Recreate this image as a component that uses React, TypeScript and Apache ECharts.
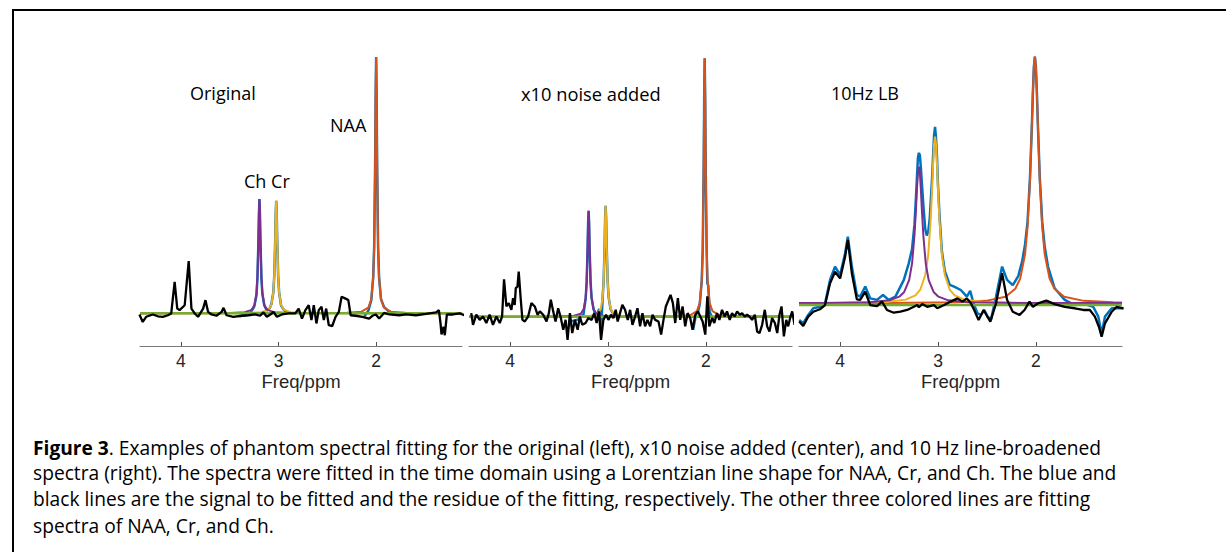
import React, { useEffect, useRef } from "react";
import * as echarts from "echarts";

// ---------- axis / labels ----------
const ppmTicks = [4, 3, 2];
const ppmMin = 1.12;
const ppmMax = 4.42;
const panelTitles = ["Original", "x10 noise added", "10Hz LB"];
const axisName = "Freq/ppm";
const captionLines = [
  "{b|Figure 3}. Examples of phantom spectral fitting for the original (left), x10 noise added (center), and 10 Hz line-broadened",
  "spectra (right). The spectra were fitted in the time domain using a Lorentzian line shape for NAA, Cr, and Ch. The blue and",
  "black lines are the signal to be fitted and the residue of the fitting, respectively. The other three colored lines are fitting",
  "spectra of NAA, Cr, and Ch.",
];

// ---------- panel 1: Original ----------
const signal1: (number | null)[][] = [
  [3.40, -0.012], [3.30, -0.005], [3.25, 0.025], [3.226, 0.07], [3.216, 0.14], [3.206, 0.29], [3.201, 0.39], [3.196, 0.445],
  [3.191, 0.39], [3.186, 0.29], [3.176, 0.14], [3.166, 0.075], [3.146, 0.03], [3.12, 0.01], [3.09, 0.02], [3.074, 0.035],
  [3.054, 0.08], [3.044, 0.145], [3.034, 0.29], [3.029, 0.39], [3.024, 0.439], [3.019, 0.39], [3.014, 0.29], [3.004, 0.145],
  [2.994, 0.08], [2.974, 0.03], [2.944, 0.012], [2.90, 0.002], [2.5, null],
  [2.12, -0.012], [2.08, 0.01], [2.05, 0.05], [2.03, 0.14], [2.02, 0.26], [2.01, 0.59], [2.005, 0.85], [2.0, 1.0],
  [1.995, 0.85], [1.99, 0.59], [1.98, 0.26], [1.97, 0.14], [1.95, 0.055], [1.92, 0.025], [1.88, 0.01], [1.85, 0.004],
];
const naa1 = [
  [4.42, 0], [2.30, 0.002], [2.15, 0.006], [2.08, 0.022], [2.05, 0.054], [2.03, 0.14], [2.02, 0.26], [2.01, 0.59], [2.005, 0.85],
  [2.0, 1.0], [1.995, 0.85], [1.99, 0.59], [1.98, 0.26], [1.97, 0.14], [1.95, 0.054], [1.92, 0.022], [1.85, 0.006], [1.70, 0.002], [1.12, 0],
];
const cr1 = [
  [4.42, 0], [3.324, 0.001], [3.174, 0.004], [3.104, 0.013], [3.074, 0.032], [3.054, 0.079], [3.044, 0.145], [3.034, 0.29],
  [3.029, 0.391], [3.024, 0.439], [3.019, 0.391], [3.014, 0.29], [3.004, 0.145], [2.994, 0.079], [2.974, 0.032], [2.944, 0.013],
  [2.874, 0.004], [2.724, 0.001], [1.12, 0],
];
const ch1 = [
  [4.42, 0], [3.496, 0.001], [3.346, 0.004], [3.276, 0.013], [3.246, 0.032], [3.226, 0.08], [3.216, 0.147], [3.206, 0.294],
  [3.201, 0.396], [3.196, 0.445], [3.191, 0.396], [3.186, 0.294], [3.176, 0.147], [3.166, 0.08], [3.146, 0.032], [3.116, 0.013],
  [3.046, 0.004], [2.896, 0.001], [1.12, 0],
];
const base1 = [[4.42, 0], [1.12, 0]];
const residue1 = [
  [4.426, -0.005], [4.392, -0.034], [4.357, -0.014], [4.289, -0.005], [4.237, -0.012], [4.186, -0.014], [4.134, -0.008],
  [4.1, -0.001], [4.065, 0.122], [4.038, 0.018], [4.014, 0.012], [3.962, 0.031], [3.921, 0.203], [3.893, 0.018],
  [3.859, -0.001], [3.825, -0.014], [3.773, 0.018], [3.749, 0.051], [3.722, 0.005], [3.687, -0.005], [3.636, -0.01],
  [3.584, 0.005], [3.564, 0.021], [3.533, -0.008], [3.464, -0.014], [3.378, -0.01], [3.309, -0.008], [3.241, -0.005],
  [3.189, -0.01], [3.155, 0.003], [3.12, -0.014], [3.069, -0.001], [3.052, 0.005], [3.017, -0.014], [2.966, -0.005],
  [2.897, -0.001], [2.828, -0.001], [2.794, 0.018], [2.76, -0.021], [2.725, 0.012], [2.691, 0.031], [2.663, -0.027],
  [2.639, 0.031], [2.612, -0.04], [2.588, 0.012], [2.56, 0.025], [2.536, -0.027], [2.512, 0.018], [2.485, -0.047],
  [2.45, -0.05], [2.416, -0.014], [2.382, 0.005], [2.354, 0.064], [2.313, 0.057], [2.285, 0.051], [2.261, -0.008],
  [2.21, -0.01], [2.141, -0.014], [2.072, -0.021], [2.038, -0.01], [2.003, -0.005], [1.969, -0.021], [1.918, 0.001],
  [1.866, -0.005], [1.763, -0.008], [1.694, -0.005], [1.591, -0.008], [1.488, -0.003], [1.385, 0.003], [1.357, 0.012],
  [1.34, -0.04], [1.33, -0.083], [1.309, -0.053], [1.296, -0.086], [1.275, -0.005], [1.213, -0.005], [1.145, -0.001],
  [1.093, -0.008],
];

// ---------- panel 2: x10 noise added ----------
const signal2: (number | null)[][] = [
  [3.40, -0.02], [3.30, -0.01], [3.25, 0.01], [3.228, 0.07], [3.218, 0.135], [3.208, 0.27], [3.203, 0.365], [3.198, 0.41],
  [3.193, 0.365], [3.188, 0.27], [3.178, 0.135], [3.168, 0.075], [3.148, 0.03], [3.12, 0.0], [3.09, 0.03], [3.07, -0.05],
  [3.054, 0.08], [3.044, 0.142], [3.034, 0.283], [3.029, 0.382], [3.024, 0.429], [3.019, 0.382], [3.014, 0.283],
  [3.004, 0.142], [2.994, 0.077], [2.974, 0.03], [2.944, 0.01], [2.5, null],
  [2.13, -0.05], [2.10, 0.01], [2.08, 0.02], [2.062, 0.05], [2.042, 0.14], [2.032, 0.26], [2.022, 0.59], [2.017, 0.85],
  [2.012, 1.0], [2.007, 0.85], [2.002, 0.59], [1.992, 0.26], [1.985, 0.13], [1.975, 0.12], [1.962, 0.02], [1.94, 0.0], [1.91, -0.02],
];
const naa2 = [
  [4.42, 0], [2.312, 0.002], [2.162, 0.006], [2.092, 0.022], [2.062, 0.054], [2.042, 0.14], [2.032, 0.26], [2.022, 0.59],
  [2.017, 0.85], [2.012, 1.0], [2.007, 0.85], [2.002, 0.59], [1.992, 0.26], [1.982, 0.14], [1.962, 0.054], [1.932, 0.022],
  [1.862, 0.006], [1.712, 0.002], [1.12, 0],
];
const cr2 = [
  [4.42, 0], [3.324, 0.001], [3.174, 0.004], [3.104, 0.012], [3.074, 0.031], [3.054, 0.077], [3.044, 0.142], [3.034, 0.283],
  [3.029, 0.382], [3.024, 0.429], [3.019, 0.382], [3.014, 0.283], [3.004, 0.142], [2.994, 0.077], [2.974, 0.031], [2.944, 0.012],
  [2.874, 0.004], [2.724, 0.001], [1.12, 0],
];
const ch2 = [
  [4.42, 0], [3.498, 0.001], [3.348, 0.004], [3.278, 0.012], [3.248, 0.03], [3.228, 0.074], [3.218, 0.135], [3.208, 0.271],
  [3.203, 0.365], [3.198, 0.41], [3.193, 0.365], [3.188, 0.271], [3.178, 0.135], [3.168, 0.074], [3.148, 0.03], [3.118, 0.012],
  [3.048, 0.004], [2.898, 0.001], [1.12, 0],
];
const base2 = [[4.42, 0], [1.12, 0]];
const residue2 = [
  [4.397, 0.014], [4.379, -0.031], [4.345, 0.008], [4.311, -0.012], [4.277, 0.001], [4.243, -0.024], [4.209, 0.008],
  [4.175, -0.031], [4.14, 0.001], [4.106, -0.024], [4.082, 0.001], [4.062, 0.145], [4.038, 0.04], [4.014, 0.053],
  [3.987, 0.027], [3.97, 0.072], [3.953, 0.046], [3.942, 0.111], [3.925, 0.117], [3.912, 0.175], [3.891, 0.066],
  [3.874, -0.012], [3.85, -0.018], [3.816, 0.001], [3.782, 0.053], [3.748, 0.04], [3.72, 0.008], [3.696, 0.021],
  [3.662, 0.008], [3.628, -0.018], [3.604, 0.014], [3.584, 0.066], [3.56, 0.021], [3.536, -0.018], [3.509, 0.033],
  [3.485, 0.001], [3.457, -0.05], [3.433, -0.012], [3.413, -0.089], [3.389, 0.014], [3.365, -0.063], [3.338, -0.012],
  [3.31, -0.05], [3.287, 0.001], [3.263, -0.031], [3.229, -0.024], [3.201, -0.005], [3.167, -0.012], [3.14, 0.014],
  [3.116, -0.024], [3.092, 0.021], [3.071, -0.089], [3.047, -0.012], [3.02, 0.008], [2.996, -0.012], [2.969, 0.008],
  [2.945, -0.005], [2.921, 0.027], [2.901, -0.018], [2.877, 0.014], [2.853, 0.046], [2.826, 0.027], [2.798, -0.012],
  [2.774, 0.027], [2.75, -0.031], [2.723, 0.001], [2.699, 0.033], [2.672, -0.037], [2.648, 0.014], [2.621, -0.037],
  [2.597, -0.012], [2.569, -0.037], [2.545, 0.008], [2.518, -0.012], [2.484, -0.018], [2.457, -0.069], [2.433, -0.012],
  [2.409, 0.04], [2.381, 0.066], [2.361, 0.085], [2.337, 0.053], [2.313, -0.024], [2.286, 0.072], [2.262, -0.012],
  [2.238, 0.04], [2.211, -0.037], [2.187, 0.014], [2.16, -0.005], [2.136, -0.05], [2.108, 0.008], [2.081, 0.021],
  [2.057, 0.001], [2.033, -0.018], [2.006, -0.069], [1.985, 0.079], [1.965, -0.037], [1.937, -0.005], [1.914, -0.024],
  [1.886, 0.014], [1.862, -0.012], [1.835, 0.027], [1.808, 0.001], [1.784, 0.021], [1.756, -0.012], [1.733, 0.014],
  [1.705, 0.001], [1.681, 0.021], [1.654, 0.008], [1.63, 0.014], [1.603, 0.001], [1.579, 0.008], [1.555, 0.001],
  [1.528, -0.012], [1.5, 0.008], [1.476, -0.057], [1.452, -0.063], [1.425, -0.031], [1.398, 0.027], [1.374, -0.037],
  [1.35, -0.057], [1.323, -0.005], [1.295, -0.024], [1.271, -0.063], [1.248, 0.008], [1.227, 0.04], [1.203, -0.076],
  [1.179, -0.012], [1.159, -0.037], [1.135, 0.001], [1.118, 0.021], [1.094, -0.031],
];

// ---------- panel 3: 10Hz LB ----------
const signal3 = [
  [4.418, -0.068], [4.377, -0.081], [4.326, -0.047], [4.274, -0.02], [4.206, -0.014], [4.154, 0.0], [4.103, 0.095],
  [4.052, 0.149], [4.0, 0.115], [3.949, 0.203], [3.921, 0.27], [3.88, 0.149], [3.829, 0.034], [3.795, 0.027],
  [3.743, 0.068], [3.692, 0.02], [3.623, 0.014], [3.562, 0.034], [3.503, 0.014], [3.435, 0.027], [3.349, 0.095],
  [3.30, 0.16], [3.265, 0.22], [3.24, 0.32], [3.225, 0.43], [3.215, 0.51], [3.205, 0.59], [3.195, 0.61], [3.185, 0.6],
  [3.175, 0.55], [3.165, 0.49], [3.15, 0.4], [3.13, 0.3], [3.115, 0.275], [3.10, 0.29], [3.085, 0.34], [3.07, 0.44],
  [3.06, 0.51], [3.05, 0.6], [3.04, 0.68], [3.03, 0.715], [3.02, 0.67], [3.01, 0.59], [3.0, 0.48], [2.985, 0.36],
  [2.96, 0.21], [2.93, 0.13], [2.88, 0.075], [2.835, 0.068], [2.767, 0.054], [2.705, 0.027], [2.671, 0.051],
  [2.637, 0.0], [2.596, -0.041], [2.561, -0.047], [2.527, -0.027], [2.493, -0.054], [2.458, -0.065], [2.407, 0.027],
  [2.345, 0.149], [2.294, 0.095], [2.236, 0.074], [2.18, 0.11], [2.14, 0.17], [2.11, 0.24], [2.085, 0.33], [2.06, 0.51],
  [2.04, 0.73], [2.03, 0.86], [2.02, 0.96], [2.01, 1.0], [2.0, 0.96], [1.99, 0.86], [1.98, 0.73], [1.96, 0.51],
  [1.935, 0.33], [1.91, 0.23], [1.876, 0.149], [1.808, 0.061], [1.705, 0.014], [1.602, -0.007], [1.499, -0.003],
  [1.414, -0.014], [1.362, -0.054], [1.328, -0.122], [1.294, -0.054], [1.225, -0.02], [1.105, -0.02],
];
const naa3 = [
  [4.42, 0.001], [3.51, 0.001], [2.81, 0.004], [2.51, 0.01], [2.31, 0.027], [2.21, 0.059], [2.16, 0.1], [2.11, 0.2],
  [2.085, 0.31], [2.06, 0.5], [2.04, 0.735], [2.03, 0.86], [2.02, 0.96], [2.01, 1.0], [2.0, 0.96], [1.99, 0.86],
  [1.98, 0.735], [1.96, 0.5], [1.935, 0.31], [1.91, 0.2], [1.86, 0.1], [1.81, 0.059], [1.71, 0.027], [1.51, 0.01],
  [1.21, 0.004], [1.12, 0.003],
];
const cr3 = [
  [4.42, 0.001], [4.03, 0.0014], [3.53, 0.0054], [3.33, 0.015], [3.23, 0.032], [3.18, 0.056], [3.13, 0.115], [3.10, 0.196],
  [3.075, 0.338], [3.06, 0.466], [3.05, 0.564], [3.04, 0.644], [3.03, 0.676], [3.02, 0.644], [3.01, 0.564], [3.0, 0.466],
  [2.985, 0.338], [2.96, 0.196], [2.93, 0.115], [2.88, 0.056], [2.83, 0.032], [2.73, 0.015], [2.53, 0.0054], [2.03, 0.0014],
  [1.12, 0.001],
];
const ch3 = [
  [4.42, 0.001], [4.195, 0.0011], [3.695, 0.0044], [3.495, 0.012], [3.395, 0.027], [3.345, 0.046], [3.295, 0.094],
  [3.265, 0.161], [3.24, 0.277], [3.225, 0.382], [3.215, 0.463], [3.205, 0.528], [3.195, 0.554], [3.185, 0.528],
  [3.175, 0.463], [3.165, 0.382], [3.15, 0.277], [3.125, 0.161], [3.095, 0.094], [3.045, 0.046], [2.995, 0.027],
  [2.895, 0.012], [2.695, 0.0044], [2.195, 0.0011], [1.12, 0.001],
];
const base3 = [[4.42, -0.007], [1.12, -0.007]];
const residue3 = [
  [4.418, -0.074], [4.377, -0.092], [4.326, -0.054], [4.274, -0.034], [4.206, -0.024], [4.154, -0.007], [4.103, 0.081],
  [4.052, 0.128], [4.0, 0.101], [3.949, 0.189], [3.921, 0.257], [3.88, 0.122], [3.829, 0.016], [3.795, 0.014],
  [3.743, 0.047], [3.692, -0.007], [3.623, -0.011], [3.572, 0.007], [3.521, -0.027], [3.452, -0.038], [3.384, -0.034],
  [3.315, -0.027], [3.247, -0.014], [3.212, -0.007], [3.195, -0.016], [3.161, -0.003], [3.11, -0.014], [3.041, -0.007],
  [3.007, -0.02], [2.938, -0.007], [2.87, 0.007], [2.801, 0.02], [2.75, 0.007], [2.705, 0.02], [2.664, 0.0],
  [2.63, -0.027], [2.585, -0.068], [2.534, -0.027], [2.465, -0.074], [2.407, 0.0], [2.345, 0.122], [2.294, 0.014],
  [2.236, -0.034], [2.167, -0.047], [2.116, -0.027], [2.065, 0.007], [2.03, -0.014], [1.979, 0.0], [1.893, 0.011],
  [1.808, -0.003], [1.705, -0.014], [1.602, -0.02], [1.516, -0.027], [1.448, -0.027], [1.397, -0.054], [1.356, -0.095],
  [1.328, -0.135], [1.294, -0.081], [1.225, -0.034], [1.174, -0.014], [1.105, -0.02],
];

const panels = [
  { signal: signal1, naa: naa1, cr: cr1, ch: ch1, base: base1, residue: residue1, yMin: -0.128, yMax: 1.027 },
  { signal: signal2, naa: naa2, cr: cr2, ch: ch2, base: base2, residue: residue2, yMin: -0.113, yMax: 1.032 },
  { signal: signal3, naa: naa3, cr: cr3, ch: ch3, base: base3, residue: residue3, yMin: -0.173, yMax: 1.027 },
];

const gridLefts = [140, 469, 799];
const gridWidths = [322, 323, 323];
const COLORS = {
  signal: "#0072BD",
  naa: "#D95319",
  cr: "#EDB120",
  ch: "#7E2F8E",
  base: "#77AC30",
  residue: "#000000",
};
const captionFont = "'Open Sans', Lato, sans-serif";
const labelFont = "'Open Sans', Lato, sans-serif";
const axisFont = "'Liberation Sans', Arial, sans-serif";

export default function App() {
  const ref = useRef<HTMLDivElement>(null);
  useEffect(() => {
    if (!ref.current) return;
    const chart = echarts.init(ref.current, undefined, { renderer: "svg" });

    const grids = panels.map((_, i) => ({ left: gridLefts[i], top: 50, width: gridWidths[i], height: 296 }));
    const xAxes = panels.map((_, i) => ({
      type: "value",
      gridIndex: i,
      min: ppmMin,
      max: ppmMax,
      inverse: true,
      splitLine: { show: false },
      axisLine: { show: true, onZero: false, lineStyle: { color: "#7a7a7a", width: 1.2 } },
      axisTick: { show: true, inside: true, length: 4, customValues: ppmTicks, lineStyle: { color: "#505050" } },
      axisLabel: {
        show: true,
        customValues: ppmTicks,
        color: "#262626",
        fontSize: 17.5,
        lineHeight: 17,
        fontFamily: axisFont,
        margin: 6,
      },
      name: axisName,
      nameLocation: "middle",
      nameGap: 26,
      nameMoveOverlap: false,
      nameTextStyle: { color: "#262626", fontSize: 18.5, lineHeight: 18, fontFamily: axisFont },
    }));
    const yAxes = panels.map((p, i) => ({
      type: "value",
      gridIndex: i,
      min: p.yMin,
      max: p.yMax,
      show: false,
    }));

    const series: any[] = [];
    panels.forEach((p, i) => {
      const mk = (name: string, data: any[], color: string, width: number) => ({
        type: "line",
        name,
        xAxisIndex: i,
        yAxisIndex: i,
        data,
        symbol: "none",
        showSymbol: false,
        connectNulls: false,
        lineStyle: { color, width },
        itemStyle: { color },
        silent: true,
      });
      series.push(mk("signal", p.signal, COLORS.signal, 2.5));
      series.push(mk("NAA", p.naa, COLORS.naa, 2));
      series.push(mk("Cr", p.cr, COLORS.cr, 2));
      series.push(mk("Ch", p.ch, COLORS.ch, 2));
      series.push(mk("baseline", p.base, COLORS.base, 2.5));
      series.push(mk("residue", p.residue, COLORS.residue, 2.3));
    });

    const textStyle = (text: string, size: number) => ({
      text,
      fontSize: size,
      fontFamily: labelFont,
      fill: "#000",
      verticalAlign: "middle",
      align: "left",
    });

    const graphic: any[] = [
      { type: "line", shape: { x1: 12, y1: 10, x2: 1226, y2: 10 }, style: { stroke: "#000", lineWidth: 2 } },
      { type: "line", shape: { x1: 13, y1: 9, x2: 13, y2: 552 }, style: { stroke: "#000", lineWidth: 2 } },
      { type: "text", x: 190, y: 93, style: textStyle(panelTitles[0], 18) },
      { type: "text", x: 521, y: 93, style: textStyle(panelTitles[1], 18.3) },
      { type: "text", x: 831, y: 93, style: textStyle(panelTitles[2], 18) },
      { type: "text", x: 330, y: 125, style: textStyle("NAA", 18) },
      { type: "text", x: 244, y: 181, style: textStyle("Ch Cr", 18) },
    ];
    const captionY = [447, 472, 498, 525];
    captionLines.forEach((line, k) => {
      graphic.push({
        type: "text",
        x: 33,
        y: captionY[k],
        style: {
          text: line,
          fontSize: 19.2,
          fontFamily: captionFont,
          fill: "#000",
          verticalAlign: "middle",
          align: "left",
          rich: {
            b: { fontWeight: "bold", fontSize: 19.2, fontFamily: captionFont, fill: "#000" },
          },
        },
      });
    });

    chart.setOption({
      animation: false,
      backgroundColor: "#ffffff",
      grid: grids,
      xAxis: xAxes,
      yAxis: yAxes,
      series,
      graphic,
    });
    return () => chart.dispose();
  }, []);

  return (
    <div
      ref={ref}
      style={{ position: "fixed", left: 0, top: 0, width: 1226, height: 552, background: "#fff" }}
    />
  );
}
